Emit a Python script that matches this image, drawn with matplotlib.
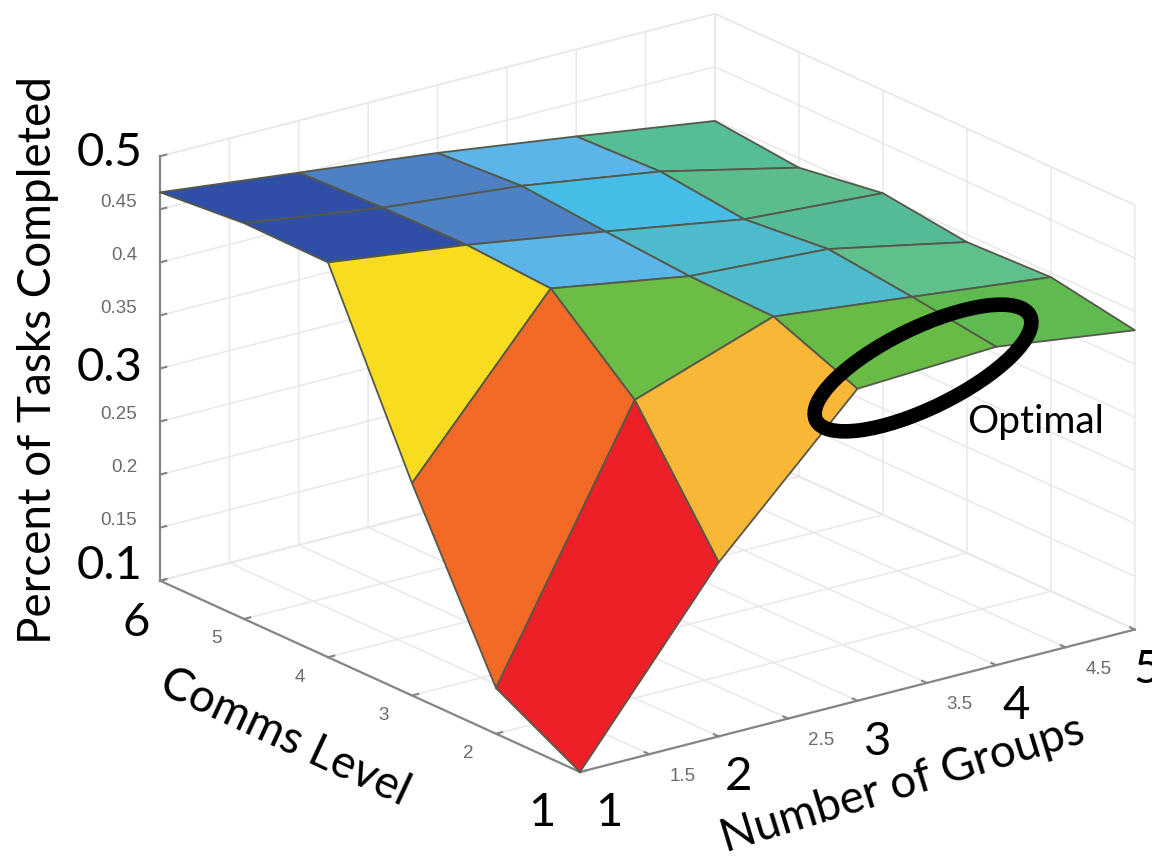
import numpy as np
import matplotlib
matplotlib.use("Agg")
import matplotlib.pyplot as plt
from matplotlib.patches import Ellipse
from mpl_toolkits.mplot3d import proj3d

# Grid of the surface
groups = [1, 2, 3, 4, 5]
comms = [1, 2, 3, 4, 5, 6]

# Percent of tasks completed, one row per comms level, one column per group count
completed = [
    [0.100, 0.264, 0.394, 0.400, 0.382],
    [0.143, 0.381, 0.426, 0.411, 0.396],
    [0.300, 0.450, 0.428, 0.420, 0.393],
    [0.472, 0.455, 0.434, 0.412, 0.403],
    [0.473, 0.454, 0.441, 0.421, 0.391],
    [0.466, 0.451, 0.436, 0.418, 0.399],
]

# Patch colours, one row per pair of comms levels
patch_colors = [
    ["#ED2027", "#F8B737", "#68BC45", "#5FBB4F"],
    ["#F26A26", "#6BBD45", "#4DBBCB", "#60C08C"],
    ["#F7DC1F", "#5BB5E8", "#4DBBCB", "#55BB96"],
    ["#2F4FA6", "#4D81C3", "#45BDE6", "#5CBD8C"],
    ["#2F4FA6", "#4D81C3", "#5BB5E8", "#55BE97"],
]

x_ticks = [1, 1.5, 2, 2.5, 3, 3.5, 4, 4.5, 5]
y_ticks = [1, 2, 3, 4, 5, 6]
z_ticks = [0.1, 0.15, 0.2, 0.25, 0.3, 0.35, 0.4, 0.45, 0.5]
x_big = [1, 2, 3, 4, 5]
y_big = [1, 6]
z_big = [0.1, 0.3, 0.5]

BIG_FONT = "Lato"
SMALL_FONT = "Liberation Sans"
GRID = "#e8e8e8"
AXIS = "#858585"

fig = plt.figure(figsize=(11.52, 8.58), dpi=100)
ax = fig.add_axes([0.1, 0.05, 0.7, 0.94], projection="3d", proj_type="ortho")
ax.view_init(elev=20, azim=-126.9)
ax.set_box_aspect((1, 1.008, 0.651))
ax.set_xlim(1, 5, view_margin=0)
ax.set_ylim(1, 6, view_margin=0)
ax.set_zlim(0.1, 0.5, view_margin=0)

X, Y = np.meshgrid(groups, comms)
Z = np.array(completed)
face = np.array([[matplotlib.colors.to_rgba(c) for c in row] for row in patch_colors])
surf = ax.plot_surface(X, Y, Z, rstride=1, cstride=1, facecolors=face, shade=False, linewidth=1.3)
surf.set_edgecolor("#55584a")

ax.set_xticks(x_ticks)
ax.set_yticks(y_ticks)
ax.set_zticks(z_ticks)
ax.set_xticklabels([])
ax.set_yticklabels([])
ax.set_zticklabels([])

for axis in (ax.xaxis, ax.yaxis, ax.zaxis):
    axis.set_pane_color((1, 1, 1, 1))
    axis.pane.set_edgecolor(GRID)
    axis.line.set_color(AXIS)
    axis.line.set_linewidth(1.6)
    axis._axinfo["grid"]["color"] = GRID
    axis._axinfo["grid"]["linewidth"] = 1.1
    axis._axinfo["tick"]["color"] = AXIS
    axis._axinfo["tick"]["linewidth"] = {True: 1.5, False: 1.0}
    axis._axinfo["tick"]["inward_factor"] = 0.0
    axis._axinfo["tick"]["outward_factor"] = 0.14
ax.tick_params(colors=AXIS)


def to_px(x, y, z):
    # 3D data position to image pixels (y measured from the top)
    xs, ys, _ = proj3d.proj_transform(x, y, z, ax.get_proj())
    px, py = ax.transData.transform((xs, ys))
    return px, 858 - py


# Scale and shift the axes so the floor corners land where the reference has them
for _ in range(3):
    fig.canvas.draw()
    x0, y0 = to_px(1, 1, 0.1)
    x1, y1 = to_px(5, 1, 0.1)
    k = np.hypot(555, 142) / np.hypot(x1 - x0, y1 - y0)
    pos = ax.get_position()
    w, h = pos.width * k, pos.height * k
    cx = pos.x0 + pos.width / 2 + (580 - x0) / 1152
    cy = pos.y0 + pos.height / 2 + (y0 - 772) / 858
    ax.set_position([cx - w / 2, cy - h / 2, w, h])
fig.canvas.draw()

# Overlay in image pixels for the labels pasted over the plot
over = fig.add_axes([0, 0, 1, 1])
over.set_xlim(0, 1152)
over.set_ylim(858, 0)
over.axis("off")


def tick_text(pos, offset, text, big):
    over.text(pos[0] + offset[0], pos[1] + offset[1], text,
              ha="center", va="center",
              fontsize=34 if big else 13.5,
              family=BIG_FONT if big else SMALL_FONT,
              color="black" if big else "#6b6b6b")


for x in x_ticks:
    big = x in x_big
    off = (20, 41) if big else (33, 22)
    if x == 1:
        off = (29, 41)
    if x == 5:
        off = (12, 40)
    tick_text(to_px(x, 1, 0.1), off, f"{x:g}", big)

for y in y_ticks:
    big = y in y_big
    off = (-28, 20)
    if y == 6:
        off = (-24, 42)
    if y == 1:
        off = (-38, 41)
    tick_text(to_px(1, y, 0.1), off, f"{y:g}", big)

for z in z_ticks:
    big = z in z_big
    px, py = to_px(1, 6, z)
    if big:
        dy = {0.1: -15, 0.3: 0, 0.5: -3}[z]
        over.text(px - 18, py + dy, f"{z:g}", ha="right", va="center", fontsize=34,
                  family=BIG_FONT, color="black")
    else:
        over.text(px - 23, py - 7, f"{z:g}", ha="right", va="center", fontsize=13.5,
                  family=SMALL_FONT, color="#6b6b6b")

over.text(38, 360, "Percent of Tasks Completed", rotation=90, ha="center", va="center",
          fontsize=33, family=BIG_FONT, color="black")
over.text(285, 737, "Comms Level", rotation=-25, ha="center", va="center",
          fontsize=33, family=BIG_FONT, color="black", rotation_mode="anchor")
over.text(903, 785, "Number of Groups", rotation=17, ha="center", va="center",
          fontsize=33, family=BIG_FONT, color="black", rotation_mode="anchor")
over.text(1036, 422, "Optimal", ha="center", va="center", fontsize=28,
          family=BIG_FONT, color="black")
over.add_patch(Ellipse((923, 368), 238, 80, angle=-26, fill=False, edgecolor="black", linewidth=10.5))

fig.savefig("out.png", dpi=100)
